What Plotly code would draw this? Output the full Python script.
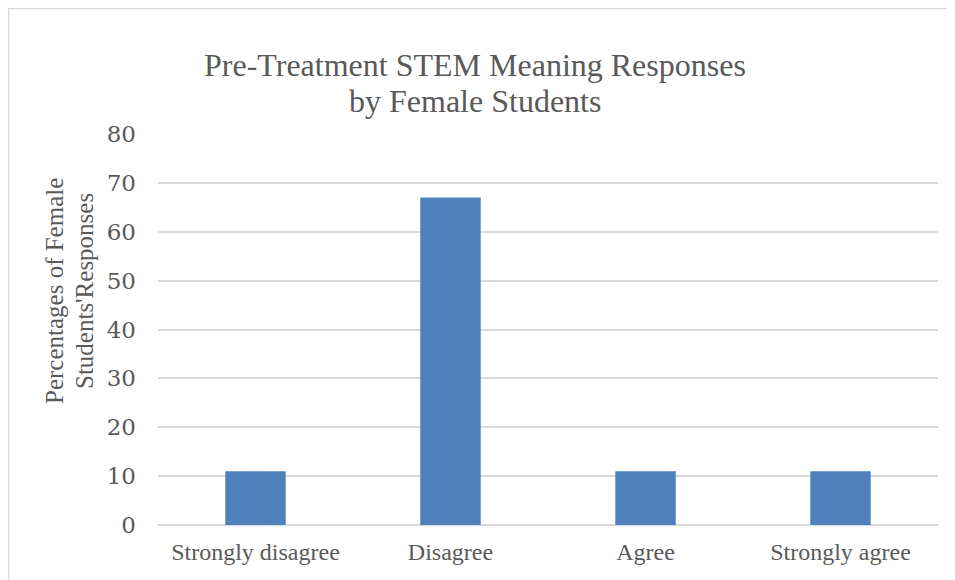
import plotly.graph_objects as go

categories = ["Strongly disagree", "Disagree", "Agree", "Strongly agree"]
percentages = [11, 67, 11, 11]
y_ticks = [0, 10, 20, 30, 40, 50, 60, 70, 80]

OFF = 8  # default page body margin
W, H = 955 - OFF, 580 - OFF
L, T = 158 - OFF, 134 - OFF
R = W - (938 - OFF)
B = H - (525 - OFF)
PW, PH = W - L - R, H - T - B

def px_x(p):
    return (p - OFF - L) / PW

def px_y(p):
    return 1 - (p - OFF - T) / PH

fig = go.Figure(go.Bar(
    x=categories, y=percentages,
    marker=dict(color="#4f81bd", line=dict(width=0)),
))

serif = "Liberation Serif, Times New Roman, serif"
grey = "#595959"

fig.update_layout(
    width=W, height=H,
    margin=dict(l=L, r=R, t=T, b=B),
    paper_bgcolor="white", plot_bgcolor="white",
    bargap=0.69,
    showlegend=False,
    xaxis=dict(
        tickfont=dict(family=serif, size=24, color=grey),
        showgrid=False, showline=False, ticks="",
        zeroline=False, ticklabelstandoff=10,
    ),
    yaxis=dict(
        range=[0, 80], tickvals=y_ticks,
        tickfont=dict(family="DejaVu Serif, serif", size=23, color=grey),
        showgrid=True, gridcolor="#d9d9d9", gridwidth=1.5,
        zeroline=True, zerolinecolor="#d9d9d9", zerolinewidth=1.5,
        showline=False, ticks="", ticklabelstandoff=21,
    ),
    annotations=[
        dict(text="Pre-Treatment STEM Meaning Responses", xref="paper", yref="paper",
             x=px_x(475), y=px_y(65), xanchor="center", yanchor="middle",
             showarrow=False, font=dict(family=serif, size=32, color=grey)),
        dict(text="by Female Students", xref="paper", yref="paper",
             x=px_x(475), y=px_y(101), xanchor="center", yanchor="middle",
             showarrow=False, font=dict(family=serif, size=32, color=grey)),
        dict(text="Percentages of Female", xref="paper", yref="paper",
             x=px_x(54), y=px_y(291), xanchor="center", yanchor="middle",
             textangle=-90, showarrow=False,
             font=dict(family=serif, size=25, color=grey)),
        dict(text="Students'Responses", xref="paper", yref="paper",
             x=px_x(84), y=px_y(291), xanchor="center", yanchor="middle",
             textangle=-90, showarrow=False,
             font=dict(family=serif, size=25, color=grey)),
    ],
    shapes=[
        dict(type="line", xref="paper", yref="paper",
             x0=px_x(8), x1=px_x(960), y0=px_y(8.5), y1=px_y(8.5),
             line=dict(color="#d9d9d9", width=1.5)),
        dict(type="line", xref="paper", yref="paper",
             x0=px_x(8.5), x1=px_x(8.5), y0=px_y(8), y1=px_y(590),
             line=dict(color="#d9d9d9", width=1.5)),
    ],
)

fig.write_html("out.html")
